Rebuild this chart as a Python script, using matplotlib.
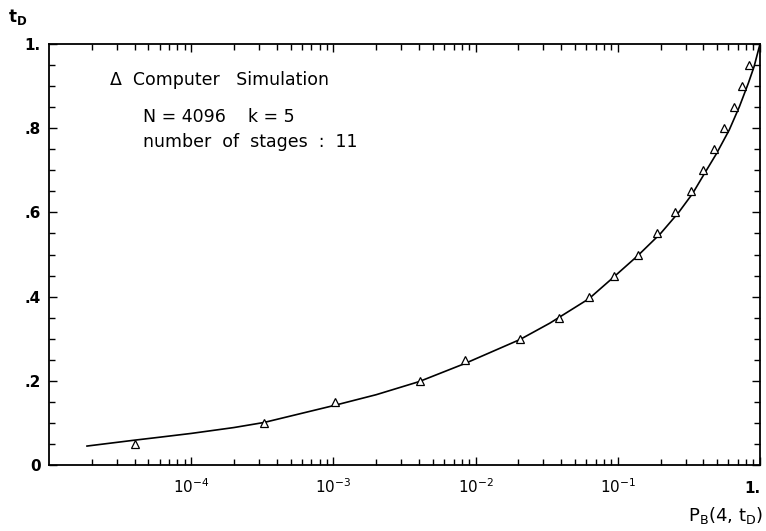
import numpy as np
import matplotlib
matplotlib.use("Agg")
import matplotlib.pyplot as plt
from matplotlib.ticker import FixedLocator, LogLocator, NullFormatter

# simulation points (triangles)
sim_p = [4.0e-5, 3.25e-4, 1.03e-3, 4.06e-3, 8.4e-3, 0.0205, 0.0385, 0.0627,
         0.094, 0.139, 0.189, 0.252, 0.327, 0.397, 0.475, 0.558, 0.652, 0.745, 0.840]
sim_t = [0.05, 0.10, 0.15, 0.20, 0.25, 0.30, 0.35, 0.40,
         0.45, 0.50, 0.55, 0.60, 0.65, 0.70, 0.75, 0.80, 0.85, 0.90, 0.95]

# analytic curve
curve_p = [1.85e-5, 4.0e-5, 6.0e-5, 1.0e-4, 2.0e-4, 3.25e-4, 1.0e-3, 2.0e-3,
           4.0e-3, 8.4e-3, 0.0205, 0.0333, 0.0627, 0.094, 0.139, 0.200, 0.268,
           0.336, 0.408, 0.495, 0.608, 0.716, 0.828, 0.908, 1.0]
curve_t = [0.045, 0.059, 0.066, 0.075, 0.089, 0.101, 0.141, 0.167,
           0.198, 0.241, 0.298, 0.337, 0.395, 0.447, 0.498, 0.55, 0.60,
           0.645, 0.693, 0.740, 0.796, 0.851, 0.907, 0.946, 1.0]

x_ticks = [1e-4, 1e-3, 1e-2, 1e-1, 1.0]
x_labels = [r"$10^{-4}$", r"$10^{-3}$", r"$10^{-2}$", r"$10^{-1}$", "1."]
y_ticks = [0, 0.2, 0.4, 0.6, 0.8, 1.0]
y_labels = ["0", ".2", ".4", ".6", ".8", "1."]

fig = plt.figure(figsize=(7.66, 5.31), dpi=100)
ax = fig.add_axes([49/766, 1 - 465/531, 711/766, 421/531])

ax.plot(curve_p, curve_t, color="black", lw=1.2)
ax.plot(sim_p, sim_t, linestyle="none", marker="^", ms=6, mfc="white",
        mec="black", mew=0.9)

ax.set_xscale("log")
ax.set_xlim(1e-5, 1.0)
ax.set_ylim(0, 1.0)

ax.xaxis.set_major_locator(FixedLocator(x_ticks))
ax.set_xticklabels(x_labels)
ax.xaxis.set_minor_locator(LogLocator(base=10, subs=np.arange(2, 10)))
ax.xaxis.set_minor_formatter(NullFormatter())
ax.yaxis.set_major_locator(FixedLocator(y_ticks))
ax.set_yticklabels(y_labels)
ax.yaxis.set_minor_locator(FixedLocator(np.arange(0, 1.01, 0.05)))

ax.tick_params(which="both", direction="in", top=True, right=True, width=1)
ax.tick_params(which="major", length=6, labelsize=11)
ax.tick_params(which="minor", length=4)
ax.tick_params(axis="x", which="major", pad=20)
ax.tick_params(axis="y", which="major", pad=6)
for lab in ax.get_yticklabels():
    lab.set_fontweight("bold")
for lab in ax.get_xticklabels():
    lab.set_fontweight("bold")
    lab.set_verticalalignment("baseline")
ax.get_xticklabels()[-1].set_horizontalalignment("right")
for s in ax.spines.values():
    s.set_linewidth(1.3)

fig.text(8/766, 1 - 17/531, r"t$_\mathbf{D}$", fontsize=12, fontweight="bold",
         va="center")
fig.text(725/766, 1 - 515/531, r"P$_\mathrm{B}$(4, t$_\mathrm{D}$)", fontsize=13,
         va="center", ha="center")

tf = dict(fontsize=12.5, va="center", family="DejaVu Sans")
fig.text(110/766, 1 - 80/531, "\u0394  Computer   Simulation", **tf)
fig.text(143/766, 1 - 117/531, "N = 4096    k = 5", **tf)
fig.text(143/766, 1 - 142/531, "number  of  stages  :  11", **tf)

fig.savefig("out.png", dpi=100)
